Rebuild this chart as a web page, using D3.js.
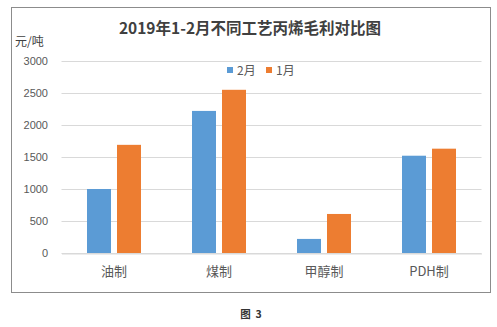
<!DOCTYPE html>
<html>
<head>
<meta charset="utf-8">
<script src="https://cdn.jsdelivr.net/npm/d3@7"></script>
<style>
  html, body { margin: 0; padding: 0; background: #fff; }
  svg { display: block; font-family: "Microsoft YaHei", "Noto Sans CJK SC", sans-serif; }
</style>
</head>
<body>
<svg id="chart" width="497" height="327"></svg>
<script>
// Gross margin of propylene by production route, yuan/ton
const categories = ["油制", "煤制", "甲醇制", "PDH制"];
const seriesNames = ["2月", "1月"];
const febValues = [1000, 2220, 220, 1520];
const janValues = [1690, 2550, 610, 1630];
const yTicks = [0, 500, 1000, 1500, 2000, 2500, 3000];
const colors = ["#5B9BD5", "#ED7D31"];

const svg = d3.select("#chart");
const plot = { left: 61.5, right: 481.5, top: 61, bottom: 253 };

// Outer frame
svg.append("rect")
  .attr("x", 11.5).attr("y", 7.5)
  .attr("width", 479).attr("height", 285)
  .attr("fill", "#fff").attr("stroke", "#8c8c8c").attr("stroke-width", 1);

// Title
svg.append("text")
  .attr("x", 250).attr("y", 34)
  .attr("text-anchor", "middle")
  .attr("font-size", 15.5).attr("font-weight", "bold")
  .attr("fill", "#404040")
  .text("2019年1-2月不同工艺丙烯毛利对比图");

// Unit label
svg.append("text")
  .attr("x", 15).attr("y", 46)
  .attr("font-size", 12).attr("fill", "#404040")
  .text("元/吨");

const y = d3.scaleLinear().domain([0, 3000]).range([plot.bottom, plot.top]);
const x0 = d3.scaleBand().domain(categories).range([plot.left, plot.right]).paddingInner(0).paddingOuter(0);
const x1 = d3.scaleBand().domain(seriesNames).range([25.5, 79.5]).paddingInner(0.2);

// Gridlines
svg.append("g")
  .selectAll("line")
  .data(yTicks)
  .join("line")
  .attr("x1", plot.left).attr("x2", plot.right)
  .attr("y1", d => Math.round(y(d)) + 0.5).attr("y2", d => Math.round(y(d)) + 0.5)
  .attr("stroke", "#d9d9d9").attr("stroke-width", 1);

// Y axis labels
const yAxis = d3.axisLeft(y).tickValues(yTicks).tickSize(0).tickPadding(0).tickFormat(d3.format("d"));
const yg = svg.append("g").attr("transform", "translate(48,0)").call(yAxis);
yg.select(".domain").remove();
yg.selectAll("text").attr("font-size", 11).attr("fill", "#595959")
  .attr("font-family", "\"Liberation Sans\", Arial, sans-serif");

// Bars
const rows = categories.map((c, i) => ({ cat: c, vals: [febValues[i], janValues[i]] }));
const groups = svg.append("g").selectAll("g")
  .data(rows).join("g")
  .attr("transform", d => `translate(${x0(d.cat)},0)`);
groups.selectAll("rect")
  .data(d => d.vals.map((v, k) => ({ name: seriesNames[k], v, k })))
  .join("rect")
  .attr("x", d => x1(d.name))
  .attr("width", x1.bandwidth())
  .attr("y", d => y(d.v))
  .attr("height", d => y(0) - y(d.v))
  .attr("fill", d => colors[d.k]);

// Category axis
const xAxis = d3.axisBottom(x0).tickSize(0).tickPadding(13);
const xg = svg.append("g").attr("transform", `translate(0,${plot.bottom + 0.5})`).call(xAxis);
xg.select(".domain").attr("stroke", "#d9d9d9");
xg.selectAll("text").attr("font-size", 13).attr("fill", "#595959")
  .attr("font-family", "\"Microsoft YaHei\", \"Noto Sans CJK SC\", sans-serif");

// Legend
const legend = svg.append("g").attr("transform", "translate(227,70)");
const legendX = [0, 39];
seriesNames.forEach((name, k) => {
  const g = legend.append("g").attr("transform", `translate(${legendX[k]},0)`);
  g.append("rect").attr("x", 0).attr("y", -3).attr("width", 6).attr("height", 6).attr("fill", colors[k]);
  g.append("text").attr("x", 10).attr("y", 4.5)
    .attr("font-size", 12).attr("fill", "#595959").text(name);
});

// Figure caption
svg.append("text")
  .attr("x", 251).attr("y", 318)
  .attr("text-anchor", "middle")
  .attr("font-size", 10.5).attr("font-weight", "bold")
  .attr("fill", "#333")
  .style("white-space", "pre")
  .text("图  3");
</script>
</body>
</html>
